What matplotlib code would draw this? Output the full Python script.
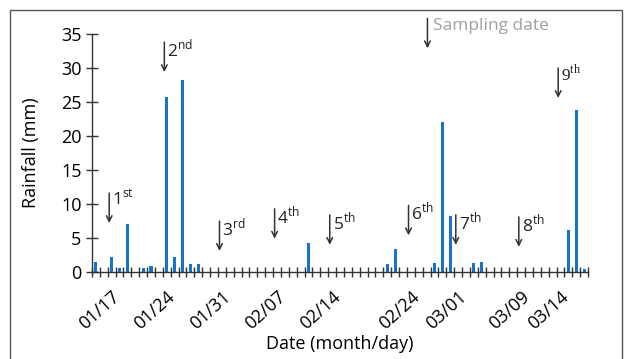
import numpy as np
import pandas as pd
import matplotlib
matplotlib.use('Agg')
import matplotlib.pyplot as plt
import matplotlib.transforms as mtransforms
from matplotlib.patches import Rectangle

plt.rcParams['font.family'] = ['Open Sans', 'DejaVu Sans']
plt.rcParams['mathtext.fontset'] = 'custom'
plt.rcParams['mathtext.rm'] = 'Open Sans'

# daily rainfall, 01/15 .. 03/17
dates = pd.date_range('2012-01-15', '2012-03-17', freq='D')
rain = np.zeros(len(dates))
rain_days = ['01/15', '01/17', '01/18', '01/19', '01/21', '01/22', '01/24', '01/25',
             '01/26', '01/27', '01/28', '02/11', '02/21', '02/22', '02/27', '02/28',
             '02/29', '03/03', '03/04', '03/15', '03/16', '03/17']
rain_mm = [1.5, 2.2, 0.6, 7.1, 0.6, 0.9, 25.8, 2.2,
           28.3, 1.2, 1.2, 4.2, 1.2, 3.4, 1.3, 22.0,
           8.2, 1.3, 1.4, 6.2, 23.8, 0.5]

sampling = ['01/17', '01/24', '01/31', '02/07', '02/14', '02/24', '03/01', '03/09', '03/14']
sampling_lbl = ['1', '2', '3', '4', '5', '6', '7', '8', '9']
sampling_sup = ['st', 'nd', 'rd', 'th', 'th', 'th', 'th', 'th', 'th']
arrow_top = [11.6, 33.8, 7.5, 9.3, 8.4, 9.8, 8.4, 8.1, 30.0]

labels = [d.strftime('%m/%d') for d in dates]
for d, v in zip(rain_days, rain_mm):
    rain[labels.index(d)] = v
x = np.arange(len(dates))
samp_x = [labels.index(s) for s in sampling]

fig = plt.figure(figsize=(6.25, 3.59), dpi=100)
ax = fig.add_axes([0.147, 0.2423, 0.794, 0.663])

ax.bar(x, rain, width=0.4, color='#1874c4')

ax.set_xlim(-0.5, len(dates) - 0.5)
ax.set_ylim(0, 35)
ax.set_yticks(np.arange(0, 36, 5))
ax.set_xticks(samp_x)
ax.set_xticklabels(sampling, rotation=42, ha='right', rotation_mode='anchor', fontsize=13)
shift = mtransforms.ScaledTranslation(-1.5 / 72, 0, fig.dpi_scale_trans)
for lab in ax.get_xticklabels():
    lab.set_transform(lab.get_transform() + shift)
ax.set_xticks(np.arange(-0.5, len(dates), 1), minor=True)
ax.tick_params(axis='x', which='major', length=0, pad=11)
ax.tick_params(axis='x', which='minor', direction='inout', length=7, width=1, color='#333333')
ax.tick_params(axis='y', direction='inout', length=9, width=1, color='#333333', labelsize=13, pad=3)

for s in ['top', 'right']:
    ax.spines[s].set_visible(False)
for s in ['left', 'bottom']:
    ax.spines[s].set_color('#333333')
    ax.spines[s].set_linewidth(1)

ax.set_ylabel('Rainfall (mm)', fontsize=13, labelpad=15)
ax.set_xlabel('Date (month/day)', fontsize=13, labelpad=2)

arr = dict(arrowstyle='->', color='#333333', lw=1.1, shrinkA=0, shrinkB=0)
for xi, top, n, sup in zip(samp_x, arrow_top, sampling_lbl, sampling_sup):
    ax.annotate('', xy=(xi - 0.3, top - 4.4), xytext=(xi - 0.3, top), arrowprops=arr)
    fam = ['Liberation Serif'] if n == '9' else ['Open Sans', 'DejaVu Sans']
    txt = n + '$^{\\mathregular{' + sup + '}}$'
    ax.annotate(txt, xy=(xi - 0.3, top), xytext=(2, 3), textcoords='offset points',
                va='top', ha='left', fontsize=12.5, color='#222222', family=fam)

# legend arrow
ax.annotate('', xy=(42.1, 32.9), xytext=(42.1, 37.3), arrowprops=arr, annotation_clip=False)
ax.annotate('Sampling date', xy=(42.1, 37.3), xytext=(4, 0), textcoords='offset points',
            va='top', ha='left', fontsize=12.5, color='#a0a0a0', annotation_clip=False)

fig.patches.append(Rectangle((10 / 625, -0.1), 612 / 625, 1.1 - 10 / 359, transform=fig.transFigure,
                             fill=False, edgecolor='#555555', lw=1))

fig.savefig('out.png', dpi=100)
